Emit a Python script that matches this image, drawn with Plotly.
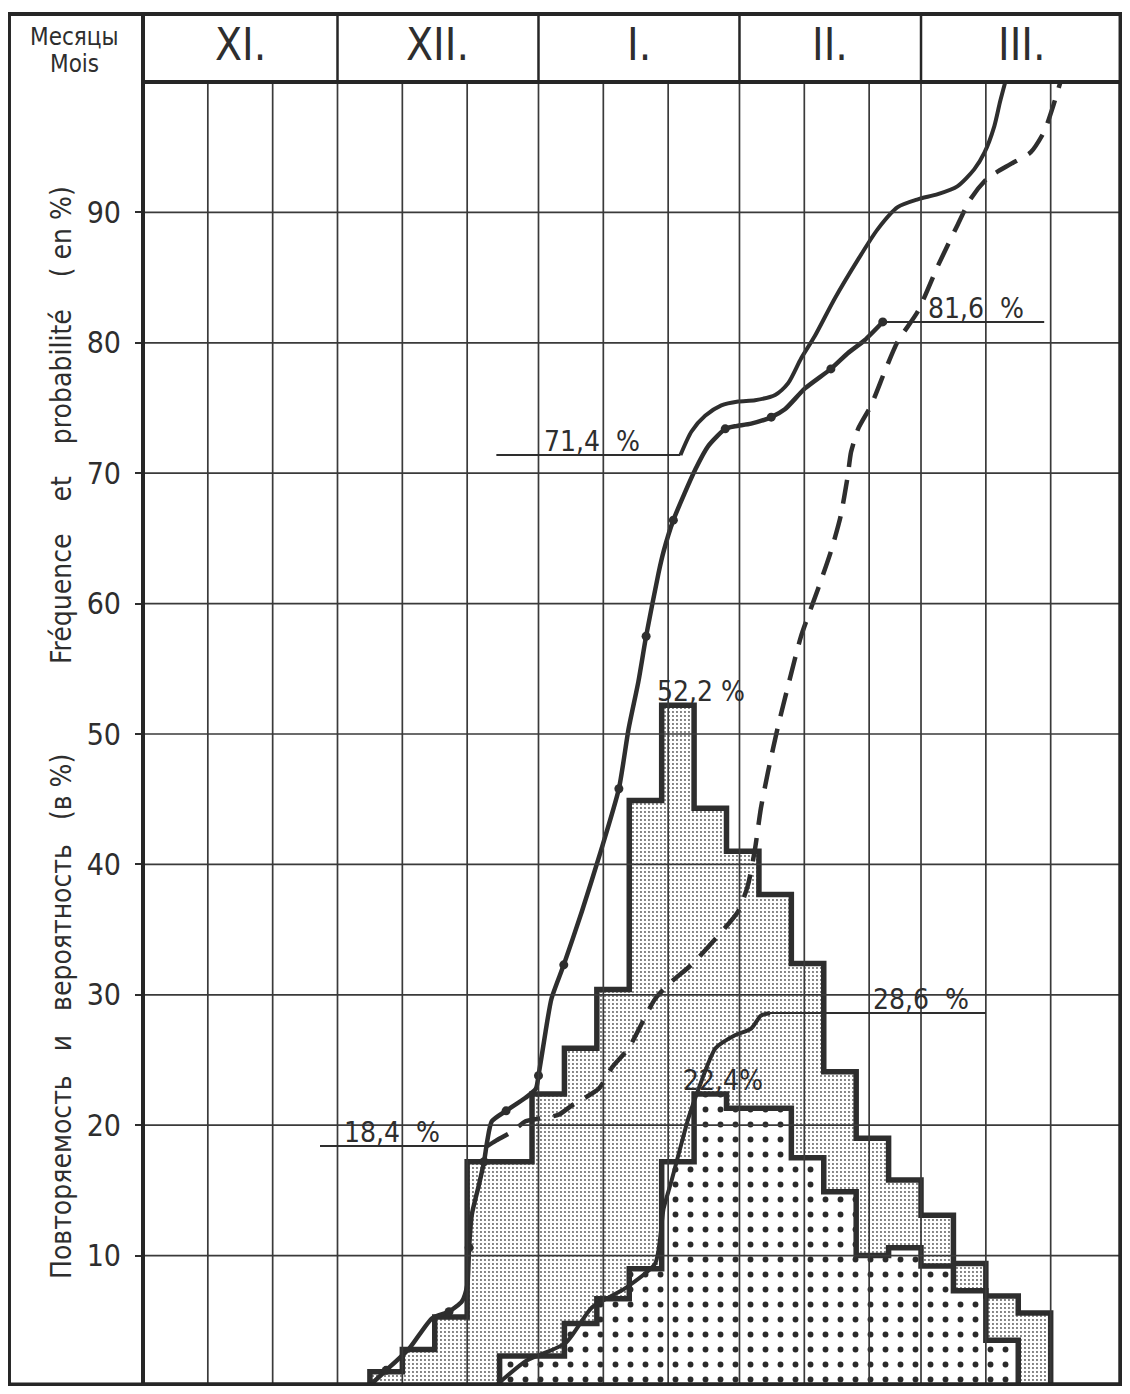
import plotly.graph_objects as go

FONT = "Liberation Sans Narrow, DejaVu Sans Condensed, Arial Narrow, Liberation Sans, sans-serif"
INK = "#2e2e2e"

# ---------------- axes / calendar (x = days since 1 November) ----------------
MONTH_LABELS = ["XI.", "XII.", "I.", "II.", "III."]
MONTH_START_DAY = [0, 30, 61, 92, 120, 151]
DEKAD_LINES = [10, 20, 30, 40, 50, 61, 71, 81, 92, 102, 112, 120, 130, 140]
Y_TICKS = [10, 20, 30, 40, 50, 60, 70, 80, 90]

# ---------------- pentad histograms (%) ----------------
PENTAD = 5
LIGHT_FIRST_DAY = 35
LIGHT_PCT = [1.1, 2.8, 5.3, 17.2, 17.2, 22.4, 25.9, 30.4, 44.9, 52.2, 44.3,
             41.0, 37.7, 32.4, 24.1, 19.0, 15.8, 13.1, 9.4, 6.9, 5.6]
DOTTED_FIRST_DAY = 55
DOTTED_PCT = [2.3, 2.3, 4.8, 6.7, 9.0, 17.2, 22.4, 21.3, 21.3, 17.5, 14.9,
              10.0, 10.6, 9.2, 7.3, 3.5]

# ---------------- cumulative curves (%) ----------------
LOWER_DAYS = [34.9, 37.5, 41.1, 44.6, 47.2, 49.2, 50.0, 50.3, 50.7, 51.8, 52.6,
              53.1, 53.8, 56.0, 59.0, 60.6, 61.0, 62.1, 63.0, 64.9, 67.7, 70.6,
              73.4, 74.9, 76.4, 77.6, 79.5, 80.3, 81.8, 85.2, 87.2, 89.8, 91.3,
              93.8, 96.9, 99.0, 102.1, 106.1, 108.7, 111.3, 114.1]
LOWER_PCT = [0, 1.2, 2.9, 5.2, 5.7, 6.5, 7.7, 10.6, 13.1, 15.4, 17.2,
             18.8, 20.3, 21.1, 22.1, 22.8, 23.8, 27.2, 29.7, 32.3, 36.4, 41.0,
             45.8, 50.4, 54.0, 57.5, 62.3, 64.0, 66.4, 70.3, 72.1, 73.4, 73.6,
             73.8, 74.3, 74.9, 76.5, 78.0, 79.2, 80.2, 81.6]

UPPER_DAYS = [82.9, 84.6, 86.7, 89.2, 91.8, 94.4, 97.5, 99.5, 101.5, 103.6, 106.7,
              110.3, 113.3, 116.4, 119.5, 122.6, 125.6, 128.2, 129.8, 131.3, 132.2, 133.0]
UPPER_PCT = [71.4, 73.2, 74.4, 75.2, 75.5, 75.6, 76.0, 76.9, 78.8, 80.5, 83.4,
             86.4, 88.7, 90.4, 91.0, 91.4, 92.0, 93.3, 94.6, 96.6, 98.5, 100]

DASHED_DAYS = [53.1, 54.4, 56.9, 59.0, 61.0, 64.1, 66.1, 70.3, 72.3, 74.9, 79.0,
               81.5, 84.6, 88.3, 91.8, 93.3, 94.4, 95.3, 96.4, 98.0, 99.5, 101.5,
               104.1, 106.1, 107.6, 108.7, 109.2, 110.3, 112.3, 114.4, 116.4, 119.5,
               122.6, 125.6, 127.6, 130.2, 133.8, 136.9, 139.0, 140.6, 141.5]
DASHED_PCT = [18.4, 18.8, 19.5, 20.3, 20.5, 20.8, 21.5, 22.8, 24.4, 25.9, 29.7,
              31.0, 32.3, 34.3, 36.4, 38.4, 41.2, 44.3, 47.1, 50.7, 53.7, 57.5,
              61.1, 64.0, 66.7, 69.8, 71.6, 73.4, 75.2, 77.8, 80.1, 82.4,
              85.9, 89.0, 91.0, 92.6, 93.7, 94.6, 96.2, 98.5, 100]

SMALL_DAYS = [54.4, 59.0, 65.2, 69.2, 74.4, 79.0, 80.3, 81.5, 83.0, 84.1, 85.7,
              88.3, 91.3, 93.8, 95.3, 96.7]
SMALL_PCT = [0, 1.9, 3.3, 6.0, 7.5, 9.4, 13.6, 15.7, 18.5, 20.5, 22.8,
             25.9, 26.9, 27.4, 28.4, 28.6]


def pct_text(v, gap="  "):
    return f"{v:.1f}".replace(".", ",") + gap + "%"


def bar_centers(first, vals):
    return [first + PENTAD * i + PENTAD / 2 for i in range(len(vals))]


def step_outline(first, vals):
    xs = [first] + [first + PENTAD * i for i in range(len(vals) + 1)]
    ys = [0] + list(vals) + [0]
    return xs, ys


fig = go.Figure()

# histograms
fig.add_bar(x=bar_centers(LIGHT_FIRST_DAY, LIGHT_PCT), y=LIGHT_PCT, width=PENTAD,
            marker=dict(color="white", line=dict(width=0),
                        pattern=dict(shape=".", size=4, solidity=0.18,
                                     fgcolor="#5a5a5a", bgcolor="white", fillmode="replace")))
fig.add_bar(x=bar_centers(DOTTED_FIRST_DAY, DOTTED_PCT), y=DOTTED_PCT, width=PENTAD,
            marker=dict(color="white", line=dict(width=0),
                        pattern=dict(shape=".", size=15, solidity=0.12,
                                     fgcolor="#2a2a2a", bgcolor="white", fillmode="replace")))

for first, vals in [(LIGHT_FIRST_DAY, LIGHT_PCT), (DOTTED_FIRST_DAY, DOTTED_PCT)]:
    xs, ys = step_outline(first, vals)
    fig.add_scatter(x=xs, y=ys, mode="lines",
                    line=dict(color=INK, width=5.5, shape="hv"))

# curves
fig.add_scatter(x=SMALL_DAYS, y=SMALL_PCT, mode="lines",
                line=dict(color=INK, width=4, shape="spline", smoothing=0.6))
fig.add_scatter(x=DASHED_DAYS, y=DASHED_PCT, mode="lines",
                line=dict(color=INK, width=4.5, shape="spline", smoothing=0.6, dash="24px,13px"))
fig.add_scatter(x=UPPER_DAYS, y=UPPER_PCT, mode="lines",
                line=dict(color=INK, width=4, shape="spline", smoothing=0.7))
fig.add_scatter(x=LOWER_DAYS, y=LOWER_PCT, mode="lines",
                line=dict(color=INK, width=4.5, shape="spline", smoothing=0.6))
fig.add_scatter(x=LOWER_DAYS[1::3], y=LOWER_PCT[1::3], mode="markers",
                marker=dict(color=INK, size=9))

shapes = []
GRID = dict(color="#3a3a3a", width=1.7)
for d in DEKAD_LINES:
    shapes.append(dict(type="line", xref="x", yref="y", x0=d, x1=d, y0=0, y1=100,
                       line=GRID, layer="above"))
for v in Y_TICKS:
    shapes.append(dict(type="line", xref="x", yref="y", x0=0, x1=151, y0=v, y1=v,
                       line=GRID, layer="above"))

# leader lines of the annotated values
LEAD = dict(color=INK, width=2)
leaders = [
    (27.3, DASHED_DAYS[0], DASHED_PCT[0]),
    (54.5, UPPER_DAYS[0], UPPER_PCT[0]),
    (LOWER_DAYS[-1], 139.0, LOWER_PCT[-1]),
    (SMALL_DAYS[-1], 130.0, SMALL_PCT[-1]),
]
for x0, x1, v in leaders:
    shapes.append(dict(type="line", xref="x", yref="y", x0=x0, x1=x1, y0=v, y1=v,
                       line=LEAD, layer="above"))

# frame and header (page has an 8px body margin; figure placed accordingly)
HDR_TOP = 1.0521
LEFT_EDGE = -0.1369
FRAME = dict(color="#262626", width=4)
shapes.append(dict(type="rect", xref="paper", yref="paper", x0=0, x1=0.9985, y0=0.0012, y1=1,
                   line=FRAME, layer="above"))
shapes.append(dict(type="rect", xref="paper", yref="paper", x0=LEFT_EDGE, x1=0.9985, y0=0.0012,
                   y1=HDR_TOP, line=FRAME, layer="above"))
for d in MONTH_START_DAY[1:-1]:
    shapes.append(dict(type="line", xref="paper", yref="paper", x0=d / 151, x1=d / 151,
                       y0=1, y1=HDR_TOP, line=dict(color="#262626", width=2.5), layer="above"))
shapes.append(dict(type="line", xref="paper", yref="paper", x0=0, x1=0, y0=1, y1=HDR_TOP,
                   line=FRAME, layer="above"))

ann = []
for i, lab in enumerate(MONTH_LABELS):
    mid = (MONTH_START_DAY[i] + MONTH_START_DAY[i + 1]) / 2 / 151
    ann.append(dict(xref="paper", yref="paper", x=mid, y=1.0284, text=lab, showarrow=False,
                    font=dict(family=FONT, size=44, color=INK), xanchor="center", yanchor="middle"))
ann.append(dict(xref="paper", yref="paper", x=-0.0695, y=1.0345, text="Месяцы", showarrow=False,
                font=dict(family=FONT, size=24, color=INK), xanchor="center", yanchor="middle"))
ann.append(dict(xref="paper", yref="paper", x=-0.0695, y=1.0136, text="Mois", showarrow=False,
                font=dict(family=FONT, size=24, color=INK), xanchor="center", yanchor="middle"))
ann.append(dict(xref="paper", yref="paper", x=-0.0827, y=0.737,
                text="Fréquence    et    probabilité    ( en %)", textangle=-90, showarrow=False,
                font=dict(family=FONT, size=28, color=INK), xanchor="center", yanchor="middle"))
ann.append(dict(xref="paper", yref="paper", x=-0.0827, y=0.283,
                text="Повторяемость   и   вероятность   (в %)", textangle=-90, showarrow=False,
                font=dict(family=FONT, size=28, color=INK), xanchor="center", yanchor="middle"))

LAB_FONT = dict(family=FONT, size=28, color=INK)
peak_i = LIGHT_PCT.index(max(LIGHT_PCT))
dpeak_i = DOTTED_PCT.index(max(DOTTED_PCT))
labels = [
    (38.4, DASHED_PCT[0], pct_text(DASHED_PCT[0])),
    (69.2, UPPER_PCT[0], pct_text(UPPER_PCT[0])),
    (128.5, LOWER_PCT[-1], pct_text(LOWER_PCT[-1])),
    (120.0, SMALL_PCT[-1], pct_text(SMALL_PCT[-1])),
    (bar_centers(LIGHT_FIRST_DAY, LIGHT_PCT)[peak_i] + 3.6, max(LIGHT_PCT), pct_text(max(LIGHT_PCT), " ")),
    (bar_centers(DOTTED_FIRST_DAY, DOTTED_PCT)[dpeak_i] + 2.0, max(DOTTED_PCT), pct_text(max(DOTTED_PCT), "")),
]
for x, v, t in labels:
    ann.append(dict(xref="x", yref="y", x=x, y=v, text=t, showarrow=False, font=LAB_FONT,
                    xanchor="center", yanchor="bottom", yshift=-5))

fig.update_layout(
    width=1114, height=1378,
    margin=dict(l=135, r=0, t=74, b=0),
    paper_bgcolor="white", plot_bgcolor="white",
    showlegend=False, barmode="overlay", bargap=0,
    shapes=shapes, annotations=ann,
    xaxis=dict(range=[0, 151], showgrid=False, zeroline=False, showticklabels=False,
               ticks="", showline=False, fixedrange=True),
    yaxis=dict(range=[0, 100], tickvals=Y_TICKS, ticks="outside", ticklen=7, tickwidth=2,
               tickcolor=INK, showgrid=False, zeroline=False, showline=False,
               tickfont=dict(family=FONT, size=30, color=INK), ticklabelstandoff=8,
               fixedrange=True),
)

fig.write_html("out.html")
